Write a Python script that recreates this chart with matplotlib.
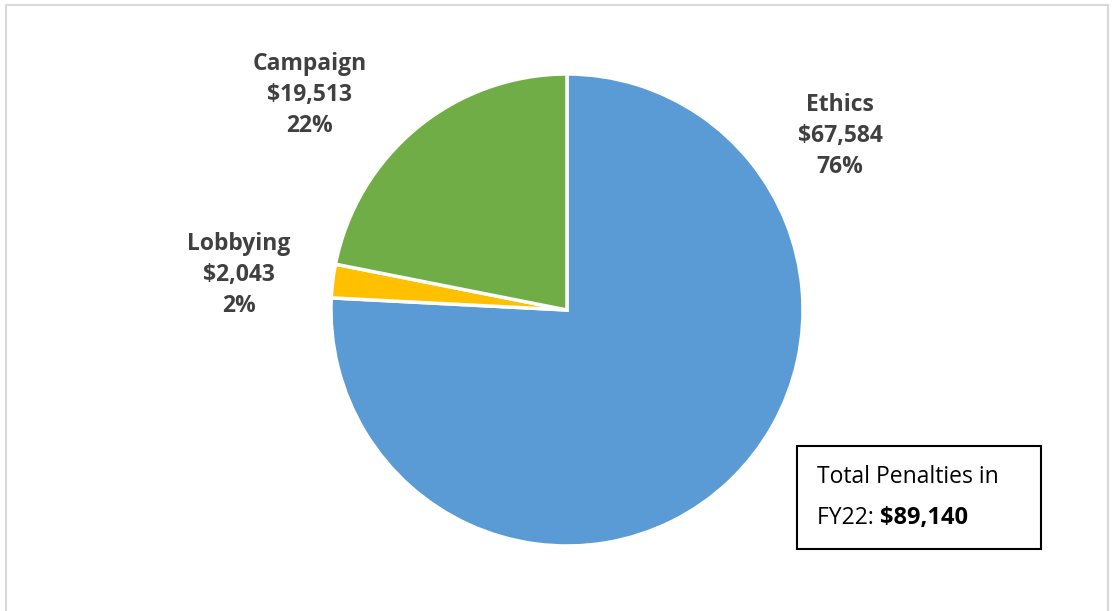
import matplotlib
matplotlib.use("Agg")
import matplotlib.pyplot as plt
from matplotlib.patches import Rectangle

categories = ["Ethics", "Lobbying", "Campaign"]
amounts = [67584, 2043, 19513]
colors = ["#5B9BD5", "#FFC000", "#70AD47"]
total = 89140

plt.rcParams['font.family'] = ['Open Sans', 'DejaVu Sans']

W, H = 1114, 611
fig = plt.figure(figsize=(W / 100, H / 100), dpi=100)

# light frame around the chart area
fig.patches.append(Rectangle((6 / W, -0.01), 1102 / W, 1 - 5 / H + 0.01,
                             transform=fig.transFigure, fill=False,
                             edgecolor="#D9D9D9", linewidth=1.5))

cx, cy, r = 567, 310, 236
ax = fig.add_axes([(cx - r) / W, (H - cy - r) / H, 2 * r / W, 2 * r / H])
ax.pie(amounts, colors=colors, startangle=90, counterclock=False,
       wedgeprops=dict(edgecolor="white", linewidth=2.5))
ax.set_xlim(-1, 1)
ax.set_ylim(-1, 1)
ax.set_aspect("auto")
ax.axis("off")

# data labels (pixel positions of the label centres)
label_pos = {"Ethics": (840, 136), "Lobbying": (239, 275), "Campaign": (310, 95)}
for name, val in zip(categories, amounts):
    px, py = label_pos[name]
    pct = round(val / total * 100)
    fig.text(px / W, 1 - py / H, f"{name}\n\\${val:,}\n{pct}%",
             ha="center", va="center", fontsize=16.5, fontweight="bold",
             color="#404040", linespacing=1.4)

# total box
fig.patches.append(Rectangle((797 / W, 1 - 549 / H), 244 / W, 103 / H,
                             transform=fig.transFigure, fill=False,
                             edgecolor="black", linewidth=1.5))
fig.text(817 / W, 1 - 477 / H, "Total Penalties in", ha="left", va="center",
         fontsize=16.5, color="black")
t = fig.text(817 / W, 1 - 518 / H, "FY22: ", ha="left", va="center",
             fontsize=16.5, color="black")
fig.canvas.draw()
ax.annotate(f"\\${total:,}", xy=(1, 0.5), xycoords=t, ha="left", va="center",
            fontsize=17, fontweight="bold", color="black")

fig.savefig("out.png", dpi=100)
